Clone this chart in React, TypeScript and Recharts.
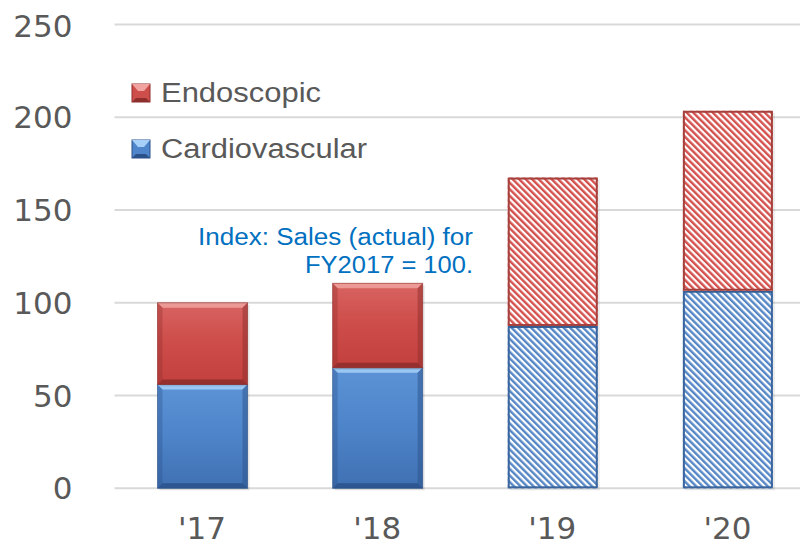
import { BarChart, Bar, XAxis, YAxis, CartesianGrid, Legend, Customized } from "recharts";

const years = ["'17", "'18", "'19", "'20"];
const cardiovascular = [56, 65, 87.5, 106.5];
const endoscopic = [44, 45.5, 80, 97];
// '19 and '20 are plan figures, drawn hatched
const forecast = [false, false, true, true];
const yTicks = [0, 50, 100, 150, 200, 250];
const noteLines = ["Index: Sales (actual) for", "FY2017 = 100."];

const data = years.map((year, i) => ({
    year,
    cardiovascular: cardiovascular[i],
    endoscopic: endoscopic[i],
}));

const palettes = {
    endoscopic: {
        id: "endo",
        top: "#D86462",
        face: "#CE4E4B",
        bottom: "#C2403D",
        light: "#F0A3A0",
        dark: "#8E2E2C",
        stripe: "#D4504D",
        border: "#A6403D",
    },
    cardiovascular: {
        id: "cardio",
        top: "#5C93D6",
        face: "#4F86CB",
        bottom: "#3F70B2",
        light: "#A6D0F8",
        dark: "#2B5189",
        stripe: "#5587C6",
        border: "#3A659F",
    },
};

type Pal = typeof palettes.endoscopic;

const bevelShape = (p: Pal) => (props: any) => {
    const { x, y, width: w, height: h, index } = props;
    if (!h || h <= 0) return <g />;
    if (forecast[index]) {
        return (
            <g>
                <defs>
                    <pattern
                        id={`hatch-${p.id}`}
                        width={4.6}
                        height={4.6}
                        patternUnits="userSpaceOnUse"
                        patternTransform="rotate(-45)"
                    >
                        <rect width={4.6} height={4.6} fill="#ffffff" />
                        <rect width={2.4} height={4.6} fill={p.stripe} />
                    </pattern>
                </defs>
                <rect x={x + 2} y={y + 2} width={w} height={h} fill="#000" opacity={0.08} />
                <rect x={x} y={y} width={w} height={h} fill={`url(#hatch-${p.id})`} />
                <rect
                    x={x + 1}
                    y={y + 1}
                    width={w - 2}
                    height={h - 2}
                    fill="none"
                    stroke={p.border}
                    strokeWidth={2}
                />
            </g>
        );
    }
    const b = Math.min(5, h / 2, w / 2);
    return (
        <g>
            <defs>
                <linearGradient id={`face-${p.id}`} x1="0" y1="0" x2="0" y2="1">
                    <stop offset="0%" stopColor={p.top} />
                    <stop offset="45%" stopColor={p.face} />
                    <stop offset="100%" stopColor={p.bottom} />
                </linearGradient>
            </defs>
            <rect x={x + 2} y={y + 2} width={w} height={h} fill="#000" opacity={0.1} />
            <rect x={x} y={y} width={w} height={h} fill={`url(#face-${p.id})`} />
            <polygon
                points={`${x},${y} ${x + w},${y} ${x + w - b},${y + b} ${x + b},${y + b}`}
                fill={p.light}
                opacity={0.85}
            />
            <polygon
                points={`${x},${y} ${x + b},${y + b} ${x + b},${y + h - b} ${x},${y + h}`}
                fill={p.dark}
                opacity={0.35}
            />
            <polygon
                points={`${x + w},${y} ${x + w - b},${y + b} ${x + w - b},${y + h - b} ${x + w},${y + h}`}
                fill={p.dark}
                opacity={0.5}
            />
            <polygon
                points={`${x},${y + h} ${x + b},${y + h - b} ${x + w - b},${y + h - b} ${x + w},${y + h}`}
                fill={p.dark}
                opacity={0.85}
            />
            <rect x={x} y={y} width={w} height={h} fill="none" stroke={p.dark} strokeWidth={1} opacity={0.6} />
        </g>
    );
};

const Marker = ({ x, y, p }: { x: number; y: number; p: Pal }) => (
    <g>
        <rect x={x} y={y} width={18} height={18} fill={p.face} stroke={p.dark} strokeWidth={1} />
        <polygon points={`${x},${y} ${x + 18},${y} ${x + 12},${y + 7} ${x + 6},${y + 7}`} fill={p.light} />
        <polygon points={`${x},${y + 18} ${x + 18},${y + 18} ${x + 14},${y + 14} ${x + 4},${y + 14}`} fill={p.dark} />
    </g>
);

const legendItems = [
    { label: "Endoscopic", p: palettes.endoscopic, len: 160 },
    { label: "Cardiovascular", p: palettes.cardiovascular, len: 206 },
];

const LegendBox = () => (
    <svg width={280} height={100} style={{ display: "block" }}>
        {legendItems.map((it, i) => (
            <g key={it.label}>
                <Marker x={9} y={7 + i * 56} p={it.p} />
                <text
                    x={38}
                    y={25 + i * 56}
                    fontFamily="'Liberation Sans', Arial, sans-serif"
                    fontSize={27}
                    fill="#595959"
                    textLength={it.len}
                    lengthAdjust="spacingAndGlyphs"
                >
                    {it.label}
                </text>
            </g>
        ))}
    </svg>
);

const noteLengths = [275, 168];

const Note = () => (
    <g>
        {noteLines.map((line, i) => (
            <text
                key={line}
                x={465}
                y={237 + i * 28}
                textAnchor="end"
                fontFamily="'Liberation Sans', Arial, sans-serif"
                fontSize={23.5}
                fill="#0070C0"
                textLength={noteLengths[i]}
                lengthAdjust="spacingAndGlyphs"
            >
                {line}
            </text>
        ))}
    </g>
);

const tickStyle = { fontFamily: "'DejaVu Sans', Verdana, sans-serif", fontSize: 31, fill: "#595959" };

export default function App() {
    return (
        <div style={{ width: 800, height: 538, overflow: "hidden", position: "relative" }}>
            <BarChart
                width={807}
                height={538}
                data={data}
                margin={{ top: 16.5, right: 0, bottom: 0, left: 0 }}
            >
                <CartesianGrid vertical={false} stroke="#D9D9D9" strokeWidth={2} />
                <XAxis
                    dataKey="year"
                    axisLine={false}
                    tickLine={false}
                    tickMargin={23}
                    height={57.7}
                    tick={tickStyle}
                />
                <YAxis
                    domain={[0, 250]}
                    ticks={yTicks}
                    axisLine={false}
                    tickLine={false}
                    tickMargin={36}
                    width={106.5}
                    tick={tickStyle}
                />
                <Legend
                    layout="vertical"
                    align="center"
                    verticalAlign="middle"
                    content={() => <LegendBox />}
                    wrapperStyle={{ left: 115, top: 69, width: 280, height: 100 }}
                />
                <Bar
                    dataKey="cardiovascular"
                    stackId="sales"
                    barSize={90}
                    fill={palettes.cardiovascular.face}
                    shape={bevelShape(palettes.cardiovascular)}
                    isAnimationActive={false}
                />
                <Bar
                    dataKey="endoscopic"
                    stackId="sales"
                    barSize={90}
                    fill={palettes.endoscopic.face}
                    shape={bevelShape(palettes.endoscopic)}
                    isAnimationActive={false}
                />
                <Customized component={Note} />
            </BarChart>
        </div>
    );
}
